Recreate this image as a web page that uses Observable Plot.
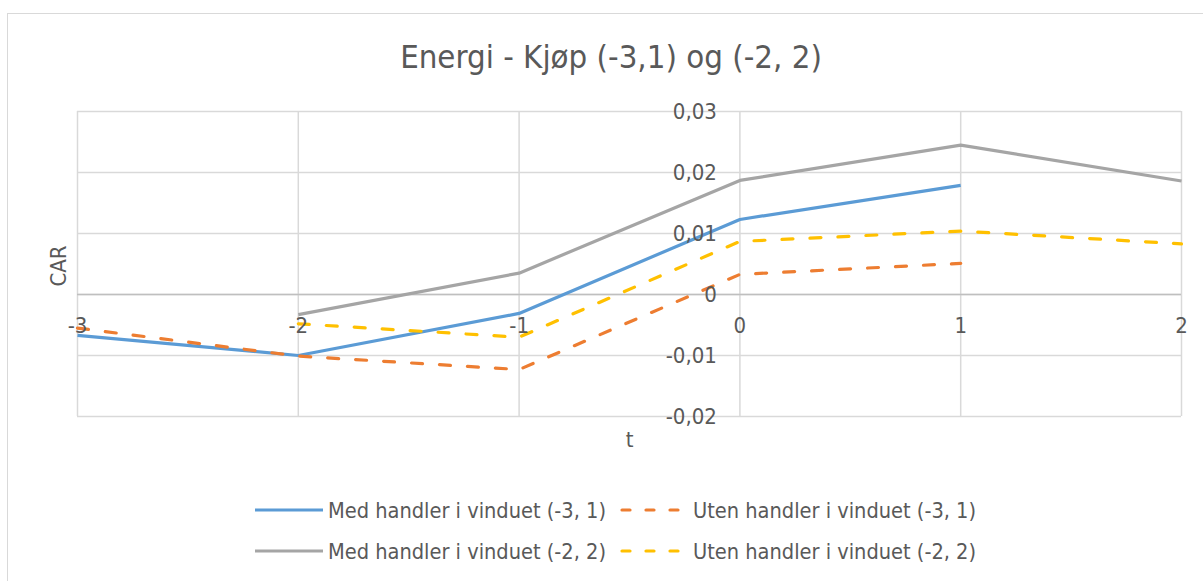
<!DOCTYPE html>
<html>
<head>
<meta charset="utf-8">
<script src="https://cdn.jsdelivr.net/npm/d3@7"></script>
<script src="https://cdn.jsdelivr.net/npm/@observablehq/plot@0.6"></script>
<style>
  html, body { margin: 0; padding: 0; background: #fff; overflow: hidden; }
  body { width: 1203px; height: 581px; position: relative; font-family: "Liberation Sans Narrow", "DejaVu Sans Condensed", "Open Sans", sans-serif; color: #595959; }
  #frame { position: absolute; left: 7px; top: 13px; width: 1220px; height: 620px; border: 1.5px solid #d9d9d9; box-sizing: border-box; }
  #title { position: absolute; left: 0; width: 1222px; top: 37px; text-align: center; font-size: 32.7px; line-height: 40px; white-space: nowrap; }
  #chart { position: absolute; left: 0; top: 0; }
  #legend { position: absolute; left: 255px; top: 490px; }
  .litem { position: absolute; display: flex; align-items: center; }
  .litem svg { margin-right: 5px; }
</style>
</head>
<body>
<div id="frame"></div>
<div id="title">Energi - Kjøp (-3,1) og (-2, 2)</div>
<div id="chart"></div>
<div id="legend"></div>
<script>
// ---- data ----
const tA = [-3, -2, -1, 0, 1];
const medA = [-0.0067, -0.0100, -0.0031, 0.0123, 0.0179];
const utenA = [-0.0055, -0.0101, -0.0123, 0.0033, 0.0051];
const tB = [-2, -1, 0, 1, 2];
const medB = [-0.0033, 0.0035, 0.0187, 0.0245, 0.0186];
const utenB = [-0.0048, -0.0070, 0.0087, 0.0104, 0.0083];
const seriesNames = [
  "Med handler i vinduet (-3, 1)",
  "Uten handler i vinduet (-3, 1)",
  "Med handler i vinduet (-2, 2)",
  "Uten handler i vinduet (-2, 2)"
];
const seriesColors = ["#5b9bd5", "#ed7d31", "#a5a5a5", "#ffc000"];
const seriesDashed = [false, true, false, true];
const xTicks = [-3, -2, -1, 0, 1, 2];
const yTicks = [-0.02, -0.01, 0, 0.01, 0.02, 0.03];
const titleText = "Energi - Kjøp (-3,1) og (-2, 2)";
const xLabel = "t";
const yLabel = "CAR";

const rows = [];
tA.forEach((t, i) => rows.push({series: seriesNames[0], t, v: medA[i]}));
tA.forEach((t, i) => rows.push({series: seriesNames[1], t, v: utenA[i]}));
tB.forEach((t, i) => rows.push({series: seriesNames[2], t, v: medB[i]}));
tB.forEach((t, i) => rows.push({series: seriesNames[3], t, v: utenB[i]}));

const fmtY = d => d === 0 ? "0" : d.toFixed(2).replace(".", ",");
const font = '"Liberation Sans Narrow", "DejaVu Sans Condensed", "Open Sans", sans-serif';

const lineMarks = seriesNames.map((name, i) =>
  Plot.line(rows.filter(r => r.series === name), {
    x: "t", y: "v",
    stroke: seriesColors[i],
    strokeWidth: 3.2,
    strokeDasharray: seriesDashed[i] ? "11,17" : null,
    strokeLinecap: seriesDashed[i] ? "round" : "butt",
    strokeLinejoin: "round"
  })
);

const chart = Plot.plot({
  width: 1203,
  height: 581,
  marginLeft: 77,
  marginRight: 22,
  marginTop: 111,
  marginBottom: 165,
  style: {fontFamily: font, background: "transparent", overflow: "visible"},
  x: {domain: [-3, 2], axis: null},
  y: {domain: [-0.02, 0.03], axis: null},
  marks: [
    Plot.ruleX(xTicks, {stroke: "#d9d9d9", strokeWidth: 1.5}),
    Plot.ruleY(yTicks, {stroke: "#d9d9d9", strokeWidth: 1.5}),
    Plot.ruleY([0], {stroke: "#bfbfbf", strokeWidth: 1.5}),
    ...lineMarks,
    Plot.text(yTicks, {x: () => 0, y: d => d, text: fmtY, textAnchor: "end", dx: -23, fontSize: 22, fill: "#595959"}),
    Plot.text(xTicks, {x: d => d, y: () => 0, text: d => String(d), dy: 31, fontSize: 22, fill: "#595959"}),
    Plot.text([yLabel], {frameAnchor: "left", textAnchor: "middle", dx: -19, dy: 2, rotate: -90, text: d => d, fontSize: 22, fill: "#595959"}),
    Plot.text([xLabel], {x: () => -0.5, frameAnchor: "bottom", dy: 30, text: d => d, fontSize: 22, fill: "#595959"})
  ]
});
document.getElementById("chart").appendChild(chart);
document.getElementById("title").textContent = titleText;

// legend
const legend = document.getElementById("legend");
const rowTops = [0, 41];
const itemLefts = [0, 365];
seriesNames.forEach((name, i) => {
  const item = document.createElement("div");
  item.className = "litem";
  item.style.left = itemLefts[i % 2] + "px";
  item.style.top = rowTops[Math.floor(i / 2)] + "px";
  item.style.height = "40px";
  item.style.fontSize = "21.6px";
  item.style.whiteSpace = "nowrap";
  const dash = seriesDashed[i] ? 'stroke-dasharray="8,16" stroke-linecap="round"' : 'stroke-linecap="butt"';
  item.innerHTML = `<svg width="68" height="10"><line x1="${seriesDashed[i] ? 2 : 0}" y1="5" x2="68" y2="5" stroke="${seriesColors[i]}" stroke-width="3.2" ${dash}/></svg><span>${name}</span>`;
  legend.appendChild(item);
});
</script>
</body>
</html>
